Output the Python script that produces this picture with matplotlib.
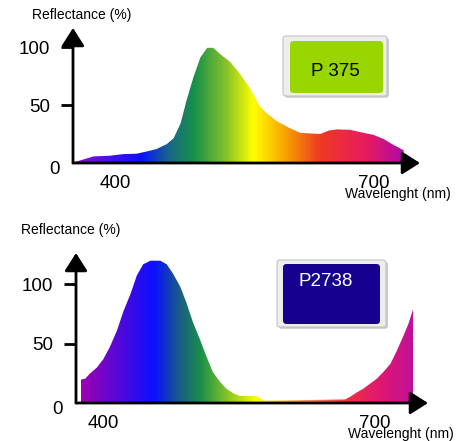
import numpy as np
import matplotlib
matplotlib.use('Agg')
import matplotlib.pyplot as plt
from matplotlib.colors import LinearSegmentedColormap
from matplotlib.patches import Polygon, FancyBboxPatch
from matplotlib.transforms import ScaledTranslation

plt.rcParams['font.family'] = ['Liberation Sans', 'DejaVu Sans']

# P 375 reflectance spectrum (wavelength nm, reflectance %)
wl_p375 = [352, 363, 375, 394, 410, 425, 437, 448, 460, 468, 476, 483, 491,
           499, 507, 514, 522, 534, 545, 557, 568, 576, 588, 603, 615, 638,
           648, 658, 673, 685, 700, 712, 723, 735]
refl_p375 = [0.6, 3, 5.7, 6.3, 7.7, 8, 10, 12, 16.3, 21.4, 34, 54, 74,
             91, 99.4, 99.4, 94, 87, 77, 64, 49, 43, 36, 30, 26, 25,
             28, 29, 28.6, 26.6, 24.3, 20.6, 15.7, 11]

# P2738 reflectance spectrum
wl_p2738 = [375, 380, 385, 393, 400, 407, 415, 422, 430, 437, 444, 452, 463,
            470, 477, 485, 492, 499, 507, 514, 521, 529, 536, 544, 551, 569,
            578, 667, 672, 680, 687, 694, 702, 709, 717, 724, 731, 737, 742]
refl_p2738 = [19.7, 20.5, 24.7, 30, 37, 47, 61, 77, 92, 107.6, 117, 120, 120,
              117, 109, 98, 84, 68, 53, 39, 26, 17.7, 12, 8, 6, 6,
              2, 3, 5, 9, 12, 16, 20.5, 26, 33, 44, 56, 67, 79]

labels = ['P 375', 'P2738']
yticks = [0, 50, 100]
xticks = [400, 700]

# spectrum colour stops (nm, colour) for each panel
stops_p375 = [(352, '#8c10c8'), (429, '#0a10ff'), (464, '#1a6a80'), (491, '#15904a'),
              (530, '#8cc428'), (560, '#ffff00'), (595, '#f8a800'), (638, '#ee3a22'),
              (692, '#e81a60'), (735, '#b00aa8')]
stops_p2738 = [(375, '#a000b0'), (455, '#0a10ff'), (485, '#1a6080'), (507, '#1a904a'),
               (543, '#a0d020'), (569, '#ffff00'), (617, '#f8a060'), (669, '#ee3040'),
               (705, '#e01870'), (742, '#c0109a')]


def px2fig(x, y):
    return x / 467.0, 1 - y / 441.0


def draw_panel(ax, wl, refl, stops, xlim, ylim):
    for s in ax.spines.values():
        s.set_visible(False)

    g0, g1 = stops[0][0], stops[-1][0]
    cmap = LinearSegmentedColormap.from_list(
        'spec', [((n - g0) / (g1 - g0), c) for n, c in stops])
    grad = np.linspace(0, 1, 512).reshape(1, -1)
    im = ax.imshow(grad, extent=[g0, g1, 0, max(refl) + 1], aspect='auto',
                   cmap=cmap, origin='lower', zorder=1)
    verts = [(wl[0], 0)] + list(zip(wl, refl)) + [(wl[-1], 0)]
    poly = Polygon(verts, closed=True, facecolor='none', edgecolor='none')
    ax.add_patch(poly)
    im.set_clip_path(poly)
    ax.set_xlim(xlim)
    ax.set_ylim(ylim)

    # axes with arrow heads
    arrow = dict(arrowstyle='-|>,head_length=0.55,head_width=0.35', color='k',
                 lw=2, mutation_scale=20, shrinkA=0, shrinkB=0)
    ax.annotate('', xy=(0, 1), xytext=(0, 0), xycoords='axes fraction',
                arrowprops=arrow, zorder=3)
    ax.annotate('', xy=(1, 0), xytext=(0, 0), xycoords='axes fraction',
                arrowprops=arrow, zorder=3)

    ax.set_yticks(yticks)
    ax.set_yticklabels([str(v) for v in yticks], fontsize=13.5)
    ax.tick_params(axis='y', length=8.5, width=2, pad=8)
    ax.yaxis.get_major_ticks()[0].tick1line.set_visible(False)
    # the "0" sits closer to the axis and a bit lower
    zero = ax.get_yticklabels()[0]
    zero.set_transform(zero.get_transform() +
                       ScaledTranslation(7 / 72, -3 / 72, fig.dpi_scale_trans))
    ax.set_xticks(xticks)
    ax.set_xticklabels([str(v) for v in xticks], fontsize=13.5)
    ax.tick_params(axis='x', length=0, pad=9)


fig = plt.figure(figsize=(4.67, 4.41), dpi=100)

# top panel: axes box in pixels left=73, right=420, top=28, bottom=163
l, b = px2fig(73, 163)
r, t = px2fig(420, 28)
ax1 = fig.add_axes([l, b, r - l, t - b])
draw_panel(ax1, wl_p375, refl_p375, stops_p375, (351.2, 754), (0, 116.5))

# bottom panel: left=76, right=428, top=253, bottom=403
l, b = px2fig(76, 403)
r, t = px2fig(428, 253)
ax2 = fig.add_axes([l, b, r - l, t - b])
draw_panel(ax2, wl_p2738, refl_p2738, stops_p2738, (369.8, 758.5), (0, 126.5))

# axis titles
fig.text(*px2fig(32, 15), 'Reflectance (%)', fontsize=10, ha='left', va='center')
fig.text(*px2fig(398, 194), 'Wavelenght (nm)', fontsize=10, ha='center', va='center')
fig.text(*px2fig(21, 230), 'Reflectance (%)', fontsize=10, ha='left', va='center')
fig.text(*px2fig(401, 434), 'Wavelenght (nm)', fontsize=10, ha='center', va='center')


def label_box(outer, inner, face, text, tcol, tpos):
    ox0, oy0, ox1, oy1 = outer
    x0, y0 = px2fig(ox0, oy1)
    x1, y1 = px2fig(ox1, oy0)
    # soft shadow + bevel frame
    fig.add_artist(FancyBboxPatch((x0 + 0.004, y0 - 0.004), x1 - x0, y1 - y0,
                                  boxstyle='round,pad=0,rounding_size=0.006',
                                  transform=fig.transFigure, facecolor='#c8c8c8',
                                  edgecolor='none'))
    fig.add_artist(FancyBboxPatch((x0, y0), x1 - x0, y1 - y0,
                                  boxstyle='round,pad=0,rounding_size=0.006',
                                  transform=fig.transFigure, facecolor='#eeeeee',
                                  edgecolor='#c4c4c4', lw=0.8))
    ix0, iy0, ix1, iy1 = inner
    x0, y0 = px2fig(ix0, iy1)
    x1, y1 = px2fig(ix1, iy0)
    fig.add_artist(FancyBboxPatch((x0, y0), x1 - x0, y1 - y0,
                                  boxstyle='round,pad=0,rounding_size=0.008',
                                  transform=fig.transFigure, facecolor=face,
                                  edgecolor='none'))
    fig.text(*px2fig(*tpos), text, fontsize=13.5, color=tcol,
             ha='center', va='center')


label_box((283, 36, 387, 96), (290, 41, 383, 93), '#99d600', labels[0], 'black', (335, 72))
label_box((277, 260, 386, 327), (283, 264, 380, 324), '#15008f', labels[1], 'white', (326, 281))

fig.savefig('out.png', dpi=100)
